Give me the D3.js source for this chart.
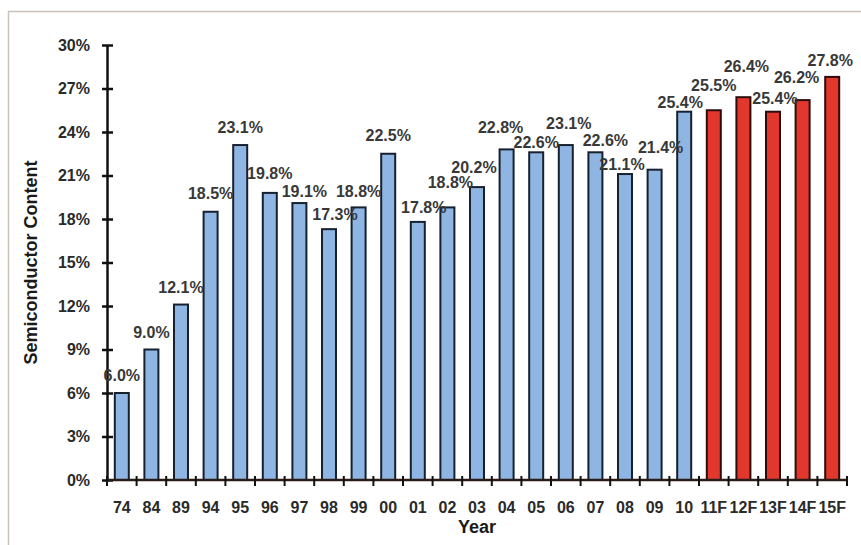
<!DOCTYPE html>
<html>
<head>
<meta charset="utf-8">
<script src="https://cdn.jsdelivr.net/npm/d3@7/dist/d3.min.js"></script>
<style>
  html, body { margin: 0; padding: 0; background: #ffffff; }
  svg { display: block; }
  text { font-family: "Liberation Sans", Arial, sans-serif; }
</style>
</head>
<body>
<svg id="chart" width="861" height="545"></svg>
<script>
// Semiconductor content by year (actual + forecast)
const years = ["74","84","89","94","95","96","97","98","99","00","01","02","03","04","05","06","07","08","09","10","11F","12F","13F","14F","15F"];
const content = [6.0, 9.0, 12.1, 18.5, 23.1, 19.8, 19.1, 17.3, 18.8, 22.5, 17.8, 18.8, 20.2, 22.8, 22.6, 23.1, 22.6, 21.1, 21.4, 25.4, 25.5, 26.4, 25.4, 26.2, 27.8];
const forecast = [false,false,false,false,false,false,false,false,false,false,false,false,false,false,false,false,false,false,false,false,true,true,true,true,true];
const yTicks = [0, 3, 6, 9, 12, 15, 18, 21, 24, 27, 30];

// hand placement of crowded value labels (pixels: horizontal shift, height of label centre above bar top)
const labelDx = [0, 0, 0, 0, 0, 0, 5, 6, 0, 0, 6, 3, -3, -6, 0, 3, 10, -3, 6, -4, 0, 3, 2, -6, -2];
const labelRise = [18, 18, 18, 19, 18, 20, 12, 15, 16, 19, 15, 25, 20, 22, 10, 22, 12, 10, 23, 10, 25, 31, 14, 23, 17];

const data = years.map((y, i) => ({ year: y, value: content[i], forecast: forecast[i], dx: labelDx[i], rise: labelRise[i] }));

const svg = d3.select("#chart");
const margin = { left: 107, right: 14, top: 45, bottom: 65 };
const W = 861, H = 545;
const x0 = margin.left, x1 = W - margin.right, y0 = H - margin.bottom, y1 = margin.top;

// frame lines on the top and left edges
svg.append("line").attr("x1", 8).attr("x2", W).attr("y1", 11.5).attr("y2", 11.5)
  .attr("stroke", "#c9c2bb").attr("stroke-width", 1.5);
svg.append("line").attr("x1", 8.5).attr("x2", 8.5).attr("y1", 11).attr("y2", H)
  .attr("stroke", "#c9c2bb").attr("stroke-width", 1.5);

const xb = d3.scaleBand().domain(years).range([x0, x1]);
const y = d3.scaleLinear().domain([0, 30]).range([y0, y1]);
const cx = d => xb(d) + xb.bandwidth() / 2;

// bars
svg.append("g").selectAll("rect").data(data).join("rect")
  .attr("x", d => cx(d.year) - 7)
  .attr("width", 14)
  .attr("y", d => y(d.value))
  .attr("height", d => y0 - y(d.value))
  .attr("fill", d => d.forecast ? "#e2372c" : "#8fb6e3")
  .attr("stroke", d => d.forecast ? "#2e0c0c" : "#17202e")
  .attr("stroke-width", 2);

// y axis
const yAxis = d3.axisLeft(y).tickValues(yTicks).tickFormat(d => d + "%").tickSize(0).tickPadding(17);
const gy = svg.append("g").attr("transform", `translate(${x0},0)`).call(yAxis);
gy.select(".domain").attr("stroke", "#111").attr("stroke-width", 2.5);
gy.selectAll(".tick text").attr("font-size", 16).attr("font-weight", "bold").attr("fill", "#2a2a2a");
gy.selectAll(".tick").append("line").attr("x1", -5).attr("x2", 6).attr("stroke", "#111").attr("stroke-width", 2.5);

// x axis line and boundary ticks
svg.append("line").attr("x1", x0).attr("x2", x1).attr("y1", y0).attr("y2", y0)
  .attr("stroke", "#2a1c18").attr("stroke-width", 2.5);
const bounds = years.map(d => xb(d)).concat([x1]);
svg.append("g").selectAll("line").data(bounds).join("line")
  .attr("x1", d => d).attr("x2", d => d)
  .attr("y1", y0 - 4).attr("y2", y0 + 6)
  .attr("stroke", "#111").attr("stroke-width", 2);

// category labels
svg.append("g").selectAll("text").data(years).join("text")
  .attr("x", d => cx(d))
  .attr("y", y0 + 33)
  .attr("text-anchor", "middle")
  .attr("font-size", 16).attr("font-weight", "bold").attr("fill", "#2a2a2a")
  .text(d => d);

// value labels
svg.append("g").selectAll("text").data(data).join("text")
  .attr("x", d => cx(d.year) + d.dx)
  .attr("y", d => y(d.value) - d.rise + 6)
  .attr("text-anchor", "middle")
  .attr("font-size", 16).attr("font-weight", "bold").attr("fill", "#383838")
  .text(d => d.value.toFixed(1) + "%");

// axis titles
svg.append("text").attr("x", (x0 + x1) / 2).attr("y", 533)
  .attr("text-anchor", "middle").attr("font-size", 18).attr("font-weight", "bold").attr("fill", "#1a1a1a")
  .text("Year");
svg.append("text").attr("transform", `translate(37,${(y0 + y1) / 2}) rotate(-90)`)
  .attr("text-anchor", "middle").attr("font-size", 18).attr("font-weight", "bold").attr("fill", "#1a1a1a")
  .text("Semiconductor Content");
</script>
</body>
</html>
